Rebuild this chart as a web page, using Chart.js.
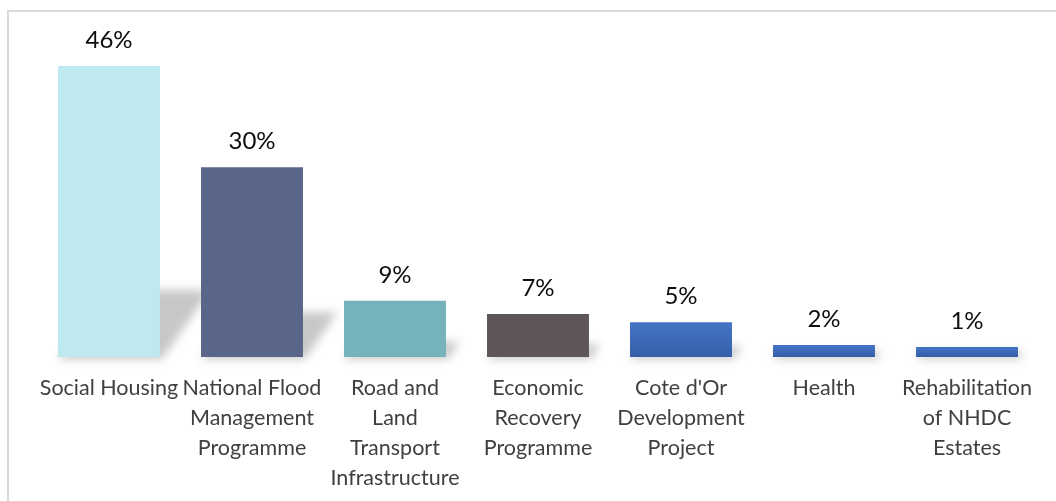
<!DOCTYPE html>
<html>
<head>
<meta charset="utf-8">
<script src="https://cdn.jsdelivr.net/npm/chart.js@4.4.1/dist/chart.umd.min.js"></script>
<style>
  html, body { margin: 0; padding: 0; background: #fff; }
  #frame { position: absolute; left: 7px; top: 10px; width: 1100px; height: 600px;
           border-left: 2px solid #d9d9d9; border-top: 2px solid #d9d9d9; }
  #wrap { position: absolute; left: 0; top: 0; width: 1056px; height: 501px; }
</style>
</head>
<body>
<div id="frame"></div>
<div id="wrap"><canvas id="myChart" width="1056" height="501"></canvas></div>
<script>
// categories (multi-line as in the picture)
const categories = [
    ['Social Housing'],
    ['National Flood', 'Management', 'Programme'],
    ['Road and', 'Land', 'Transport', 'Infrastructure'],
    ['Economic', 'Recovery', 'Programme'],
    ["Cote d'Or", 'Development', 'Project'],
    ['Health'],
    ['Rehabilitation', 'of NHDC', 'Estates']
];
// bar heights (share, %)
const shares = [46, 30, 8.9, 6.8, 5.5, 1.9, 1.6];
// labels printed above the bars
const shareLabels = ['46%', '30%', '9%', '7%', '5%', '2%', '1%'];
const barColors = ['#bee9ee', '#596689', '#76b2bb', '#5e5557', 'blue', 'blue', 'blue'];

// soft perspective shadow behind each bar
const shadowPlugin = {
    id: 'barShadow',
    beforeDatasetsDraw(chart) {
        const ctx = chart.ctx;
        const meta = chart.getDatasetMeta(0);
        ctx.save();
        ctx.filter = 'blur(5px)';
        ctx.fillStyle = 'rgba(0,0,0,0.22)';
        meta.data.forEach(bar => {
            const h = bar.base - bar.y;
            const w = bar.width;
            const dx = h * 0.16 + 4;
            const dy = h * 0.22 + 3;
            ctx.beginPath();
            ctx.moveTo(bar.x - w / 2, bar.base + 2);
            ctx.lineTo(bar.x + w / 2 + 2, bar.base + 2);
            ctx.lineTo(bar.x + w / 2 + dx, bar.base - dy);
            ctx.lineTo(bar.x - w / 2 + dx, bar.base - dy);
            ctx.closePath();
            ctx.fill();
        });
        ctx.restore();
    }
};

// value labels above bars
const valueLabels = {
    id: 'valueLabels',
    afterDatasetsDraw(chart) {
        const ctx = chart.ctx;
        const meta = chart.getDatasetMeta(0);
        ctx.save();
        ctx.font = '24px Lato';
        ctx.fillStyle = '#0d0d0d';
        ctx.textAlign = 'center';
        ctx.textBaseline = 'alphabetic';
        meta.data.forEach((bar, i) => {
            ctx.fillText(shareLabels[i], bar.x, bar.y - 18);
        });
        ctx.restore();
    }
};

function barFill(context) {
    const c = barColors[context.dataIndex];
    if (c !== 'blue') return c;
    const chart = context.chart;
    const y = chart.scales.y;
    if (!y || !chart.chartArea) return '#4270c0';
    const top = y.getPixelForValue(shares[context.dataIndex]);
    const bottom = y.getPixelForValue(0);
    const g = chart.ctx.createLinearGradient(0, top, 0, bottom);
    g.addColorStop(0, '#4574c6');
    g.addColorStop(1, '#345ea8');
    return g;
}

var ctx = document.getElementById('myChart').getContext('2d');
var myChart = new Chart(ctx, {
    type: 'bar',
    data: {
        labels: categories,
        datasets: [{
            data: shares,
            backgroundColor: barFill,
            borderWidth: 0,
            barPercentage: 0.713,
            categoryPercentage: 1.0
        }]
    },
    options: {
        responsive: false,
        animation: false,
        events: [],
        layout: { padding: { left: 37.5, right: 17.5, top: 9, bottom: 0 } },
        plugins: {
            legend: { display: false },
            tooltip: { enabled: false }
        },
        scales: {
            x: {
                grid: { display: false, drawTicks: false },
                border: { display: false },
                ticks: {
                    color: '#404040',
                    font: { family: 'Lato', size: 21.5, lineHeight: 1.39 },
                    padding: 16,
                    maxRotation: 0,
                    autoSkip: false
                },
                afterFit: function (scale) { scale.height = 144; }
            },
            y: {
                display: false,
                min: 0,
                max: 55
            }
        }
    },
    plugins: [shadowPlugin, valueLabels]
});
</script>
</body>
</html>
